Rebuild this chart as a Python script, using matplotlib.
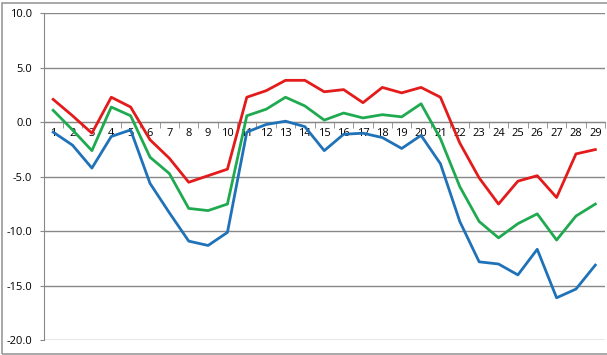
import matplotlib
matplotlib.use("Agg")
import matplotlib.pyplot as plt
from matplotlib.patches import Rectangle

# category labels
days = list(range(1, 30))

# series values
red = [2.1, 0.6, -1.0, 2.3, 1.4, -1.6, -3.3, -5.5, -4.9, -4.3,
       2.3, 2.9, 3.85, 3.85, 2.8, 3.0, 1.8, 3.2, 2.7, 3.2,
       2.3, -1.9, -5.1, -7.5, -5.4, -4.9, -6.9, -2.9, -2.5]
green = [1.1, -0.7, -2.6, 1.4, 0.6, -3.2, -4.7, -7.9, -8.1, -7.5,
         0.6, 1.2, 2.3, 1.5, 0.2, 0.85, 0.4, 0.7, 0.5, 1.7,
         -1.5, -5.9, -9.1, -10.6, -9.3, -8.4, -10.8, -8.6, -7.5]
blue = [-0.9, -2.1, -4.2, -1.3, -0.7, -5.6, -8.3, -10.9, -11.3, -10.1,
        -0.9, -0.2, 0.1, -0.4, -2.6, -1.1, -1.0, -1.4, -2.4, -1.2,
        -3.8, -9.1, -12.8, -13.0, -14.0, -11.65, -16.1, -15.3, -13.1]

y_ticks = [-20, -15, -10, -5, 0, 5, 10]

grid_col = "#888888"
plt.rcParams["font.family"] = ["Open Sans", "DejaVu Sans"]

fig = plt.figure(figsize=(6.07, 3.55), dpi=100)
fig.patches.append(Rectangle((2 / 607, 1.5 / 355), 1.1, 351 / 355,
                             transform=fig.transFigure, fill=False,
                             edgecolor="#999999", linewidth=1.2))

ax = fig.add_axes([43.5 / 607, 14.7 / 355, 561.5 / 607, 327 / 355])

ax.plot(days, red, color="#E31B1B", lw=2, zorder=5)
ax.plot(days, green, color="#1FAA50", lw=2, zorder=4)
ax.plot(days, blue, color="#1F72B8", lw=2, zorder=3)

ax.set_xlim(0.5, 29.5)
ax.set_ylim(-20, 10)

ax.set_yticks(y_ticks)
ax.set_yticklabels([f"{v:.1f}" for v in y_ticks], fontsize=8)
ax.yaxis.grid(True, color=grid_col, lw=1)
ax.set_axisbelow(True)

ax.spines["top"].set_visible(False)
ax.spines["right"].set_visible(False)
ax.spines["left"].set_color(grid_col)
ax.spines["bottom"].set_position(("data", 0))
ax.spines["bottom"].set_color(grid_col)

ax.set_xticks(days)
ax.set_xticklabels([str(d) for d in days], fontsize=8)
ax.set_xticks([d + 0.5 for d in range(0, 30)], minor=True)
ax.tick_params(axis="x", which="major", length=0, pad=4)
ax.tick_params(axis="x", which="minor", length=4, color=grid_col, direction="out")
ax.tick_params(axis="y", length=3, color=grid_col, pad=5)

fig.savefig("out.png", dpi=100)
